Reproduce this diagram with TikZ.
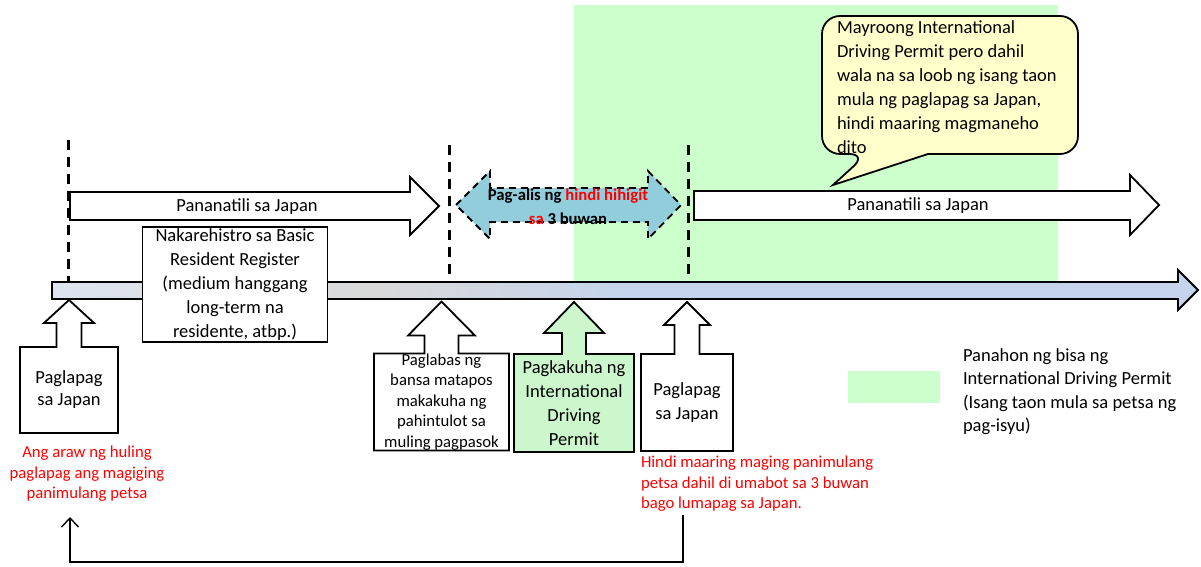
\documentclass[tikz,border=0pt]{standalone}
\usepackage{fontspec}
\setmainfont{Carlito}
\usetikzlibrary{arrows.meta, backgrounds}

\definecolor{idpgreen}{HTML}{CCFFCC}
\definecolor{permitgreen}{HTML}{CCF7CC}
\definecolor{bubbleyellow}{HTML}{FFFFCC}
\definecolor{tripblue}{HTML}{92CDDC}
\definecolor{barleft}{HTML}{DDE4F0}
\definecolor{barmid}{HTML}{D9D9D9}
\definecolor{barright}{HTML}{C5D4EC}
\definecolor{notered}{HTML}{FF0000}
\pgfdeclarehorizontalshading{barshade}{100bp}{color(0bp)=(barleft); color(25bp)=(barleft); color(39bp)=(barmid); color(50bp)=(barright); color(100bp)=(barright)}

\begin{document}
\begin{tikzpicture}[
    x=1pt, y=-1pt,
    every node/.style={font=\fontsize{18.5}{24}\selectfont, inner sep=0pt, outer sep=0pt},
    small/.style={font=\fontsize{16.7}{20.6}\selectfont},
    cbox/.style={align=center},
    callout/.style={draw, line width=1.8pt, fill=white},
    stayarrow/.style={draw, line width=1.8pt, fill=white},
    dashmark/.style={line width=3pt, dash pattern=on 10pt off 7pt},
    rednote/.style={small, text=notered},
    back/.style={line width=1.4pt, -{Straight Barb[length=9pt, width=17pt]}}
]
    \useasboundingbox (0,0) rectangle (1201,567);

    % time marks
    \draw[dashmark] (68,140) -- (68,282);
    \draw[dashmark] (449,145) -- (449,282);
    \draw[dashmark] (688,145) -- (688,282);

    % timeline
    \draw[line width=1.8pt, shading=barshade, shading angle=0]
        (52,282) -- (1178,282) -- (1178,270) -- (1198,290) -- (1178,310) -- (1178,299) -- (52,299) -- cycle;

    % stay arrows
    \draw[stayarrow] (70,192) -- (410,192) -- (410,177) -- (439,206) -- (410,235) -- (410,220) -- (70,220) -- cycle;
    \node (stay1) at (247,207) {Pananatili sa Japan};
    \draw[stayarrow] (694,191) -- (1130,191) -- (1130,175) -- (1159,205) -- (1130,235) -- (1130,220) -- (694,220) -- cycle;
    \node (stay2) at (918,206) {Pananatili sa Japan};

    % trip abroad
    \draw[line width=1.8pt, dash pattern=on 7pt off 5pt, fill=tripblue]
        (456,205) -- (490,171) -- (490,188) -- (648,188) -- (648,171) -- (681,205) -- (648,239) -- (648,222) -- (490,222) -- (490,239) -- cycle;
    \node[small, align=center, font=\fontsize{16.7}{24}\selectfont\bfseries] (trip) at (568,207)
        {Pag-alis ng \textcolor{notered}{hindi hihigit}\\\textcolor{notered}{sa} 3 buwan};

    % speech bubble
    \draw[line width=1.8pt, fill=bubbleyellow]
        (833,185) -- (928,154) [rounded corners=18pt] -- (1078,154) -- (1078,16) -- (822,16) -- (822,154) -- (867,154) [sharp corners] -- cycle;
    \node[anchor=west, align=left] (remark) at (837,87)
        {Mayroong International\\Driving Permit pero dahil\\wala na sa loob ng isang taon\\mula ng paglapag sa Japan,\\hindi maaring magmaneho\\dito};

    % register box
    \node[draw, line width=1.8pt, fill=white, align=center, inner sep=1pt, minimum width=185pt, minimum height=115pt] (register) at (235,284.5)
        {Nakarehistro sa Basic\\Resident Register\\(medium hanggang\\long-term na\\residente, atbp.)};

    % callout boxes
    \node[cbox, font=\fontsize{18.5}{22}\selectfont, minimum width=98pt, minimum height=86pt] (land1) at (69,390) {Paglapag\\sa Japan};
    \node[cbox, small, minimum width=135pt, minimum height=96pt] (reentry) at (441.5,402)
        {Paglabas ng\\bansa matapos\\makakuha ng\\pahintulot sa\\muling pagpasok};
    \node[cbox, minimum width=120pt, minimum height=98pt] (permit) at (574,403)
        {Pagkakuha ng\\International\\Driving\\Permit};
    \node[cbox, minimum width=92pt, minimum height=97pt] (land2) at (687,402.5) {Paglapag\\sa Japan};

    \begin{scope}[on background layer]
        \fill[idpgreen] (574,5) rectangle (1058,281);
        \draw[callout] (land1.south west) -- (land1.north west) -- ([xshift=-12.5pt]land1.north) -- ++(0,-24) -- ++(-12.5,0)
            -- ++(25,-23) -- ++(25,23) -- ++(-12.5,0) -- ++(0,24) -- (land1.north east) -- (land1.south east) -- cycle;
        \draw[callout] (reentry.south west) -- (reentry.north west) -- ([xshift=-17pt]reentry.north) -- ++(0,-18) -- ++(-16.5,0)
            -- ++(33.5,-34) -- ++(33.5,34) -- ++(-16.5,0) -- ++(0,18) -- (reentry.north east) -- (reentry.south east) -- cycle;
        \draw[callout, fill=permitgreen] (permit.south west) -- (permit.north west) -- ([xshift=-12pt]permit.north) -- ++(0,-21) -- ++(-18,0)
            -- ++(30,-31) -- ++(30,31) -- ++(-18,0) -- ++(0,21) -- (permit.north east) -- (permit.south east) -- cycle;
        \draw[callout] (land2.south west) -- (land2.north west) -- ([xshift=-12.5pt]land2.north) -- ++(0,-29) -- ++(-10.5,0)
            -- ++(23,-23) -- ++(23,23) -- ++(-10.5,0) -- ++(0,29) -- (land2.north east) -- (land2.south east) -- cycle;
    \end{scope}

    % notes
    \node[rednote, align=center] (firstnote) at (87,474)
        {Ang araw ng huling\\paglapag ang magiging\\panimulang petsa};
    \node[rednote, align=left, anchor=west] (latenote) at (641,484)
        {Hindi maaring maging panimulang\\petsa dahil di umabot sa 3 buwan\\bago lumapag sa Japan.};

    \coordinate (fromhere) at (683,515);
    \coordinate (tohere) at (70,517);
    \draw[back] (fromhere) -- ++(0,47) -| (tohere);

    % legend
    \node[fill=idpgreen, minimum width=92pt, minimum height=32pt] (swatch) at (894,387) {};
    \node[anchor=west, align=left, font=\fontsize{18.5}{23.5}\selectfont] (legend) at (963,391.5)
        {Panahon ng bisa ng\\International Driving Permit\\(Isang taon mula sa petsa ng\\pag-isyu)};
\end{tikzpicture}
\end{document}
